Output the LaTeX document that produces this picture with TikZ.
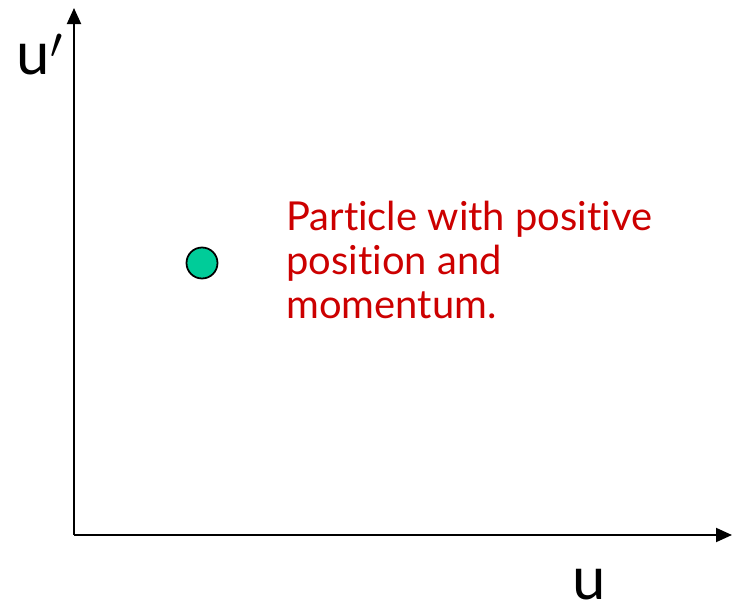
\documentclass[tikz,border=0pt]{standalone}
\usepackage{fontspec}
\setmainfont{Lato}[RawFeature=-liga]
\usepackage{xcolor}
\usepackage{tikz}
\usetikzlibrary{arrows.meta,positioning}
\definecolor{dotgreen}{RGB}{0,204,153}
\definecolor{notered}{RGB}{204,0,0}

\begin{document}
\begin{tikzpicture}[
    axis/.style={-{Triangle[length=3.2mm, width=2.8mm]}, line width=1.1pt},
    particle/.style={circle, draw, line width=1pt, fill=dotgreen, minimum size=6.2mm, inner sep=0pt},
    note/.style={text=notered, font=\fontsize{22.7}{25}\selectfont, align=left, anchor=west, inner sep=0pt},
    axlabel/.style={font=\fontsize{34}{34}\selectfont, inner sep=0pt}
]
\useasboundingbox (0,0) rectangle (14.68,-12.26);
\coordinate (origin) at (1.48,-10.70);
\coordinate (utip) at (14.64,-10.70);
\coordinate (uptip) at (1.48,-0.16);

\draw[axis] (origin) -- (utip);
\draw[axis] (origin) -- (uptip);

\node[axlabel] (ulab) at (11.78,-11.7) {u};
\node[axlabel] (uplab) at (0.8,-1.1) {u$'$};

\node[particle] (dot) at (4.04,-5.26) {};
\node[note] (txt) at (5.72,-5.2) {Particle with positive\\position and\\momentum.};
\end{tikzpicture}
\end{document}
